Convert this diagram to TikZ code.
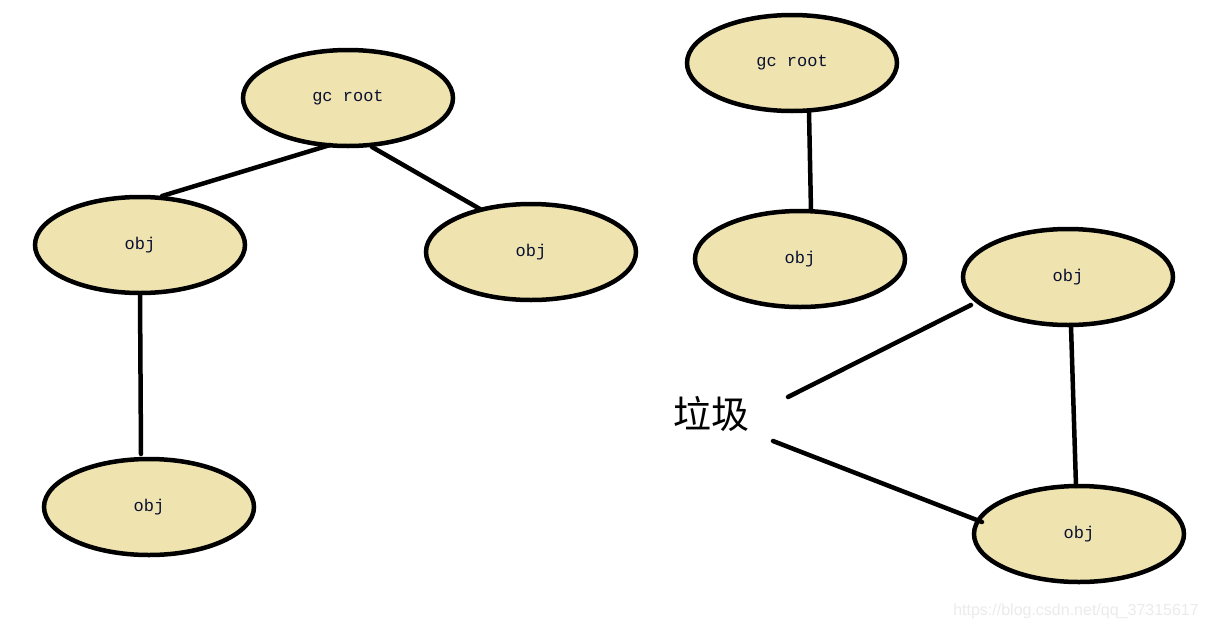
\documentclass[tikz,border=0pt]{standalone}
\usepackage{fontspec}
\setmonofont{Liberation Mono}
\newfontfamily\cjk{Noto Sans CJK SC}
\newfontfamily\wmfont{Liberation Sans}
\usetikzlibrary{calc,shapes.geometric}
\definecolor{paintbeige}{HTML}{EFE4B0}
\definecolor{txtnavy}{HTML}{0A1030}
\tikzset{
  blob/.style={ellipse, draw=black, line width=4.5pt, fill=paintbeige,
    minimum width=210pt, minimum height=96pt, inner sep=0pt,
    font=\fontsize{17}{17}\selectfont\ttfamily, text=txtnavy},
  link/.style={line width=4.5pt, line cap=round},
}
\begin{document}
\begin{tikzpicture}[x=1pt,y=-1pt]
\fill[white] (0,0) rectangle (1208,630);
\useasboundingbox (0,0) rectangle (1208,630);
% left group
\node[blob] (gcA) at (348,98) {gc root};
\node[blob] (oA) at (140,245) {obj};
\node[blob] (oB) at (531,252) {obj};
\node[blob] (oC) at (149,507) {obj};
% right group
\node[blob] (gcB) at (792,63) {gc root};
\node[blob] (oD) at (800,259) {obj};
\node[blob] (oE) at (1068,277) {obj};
\node[blob] (oF) at (1079,534) {obj};
\node[font=\cjk\fontsize{38}{38}\selectfont, inner sep=0pt] (lj) at (711,414) {垃圾};
% connectors
\draw[link] ($(gcA)+(-18,47)$) -- ($(oA)+(22,-49)$);
\draw[link] ($(gcA)+(24,49)$) -- ($(oB)+(-51,-43)$);
\draw[link] ($(oA)+(0,49)$) -- ($(oC)+(-8,-53)$);
\draw[link] ($(gcB)+(17,48)$) -- ($(oD)+(11,-48)$);
\draw[link] ($(lj)+(77,-17)$) -- ($(oE)+(-97,28)$);
\draw[link] ($(lj)+(62,27)$) -- ($(oF)+(-97,-12)$);
\draw[link] ($(oE)+(3,49)$) -- ($(oF)+(-3,-48)$);
% watermark
\node[anchor=east, font=\wmfont\fontsize{16}{16}\selectfont, text=black!8, inner sep=0pt] (wm) at (1199,611) {https://blog.csdn.net/qq\_37315617};
\end{tikzpicture}
\end{document}
